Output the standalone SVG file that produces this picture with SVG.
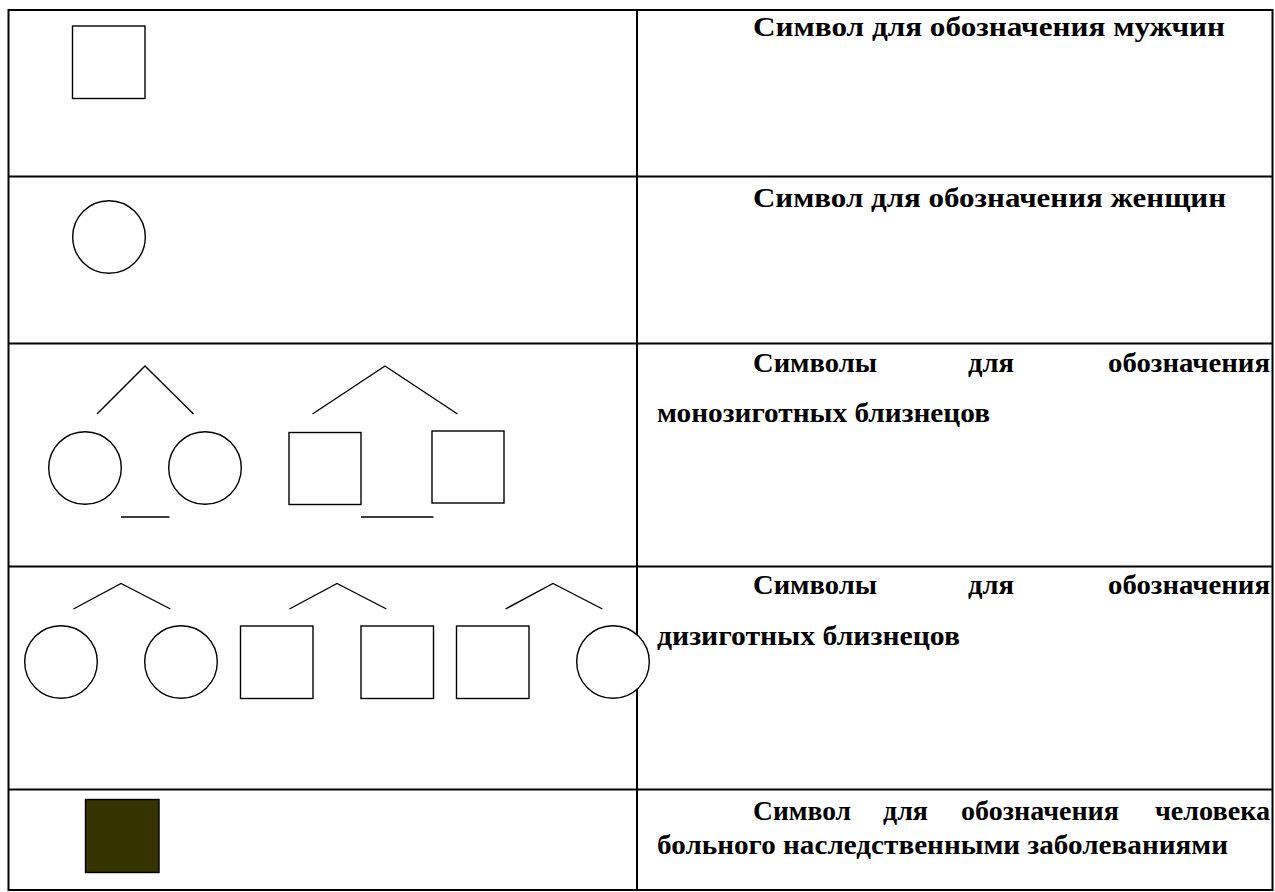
<svg xmlns="http://www.w3.org/2000/svg" width="1275" height="892" viewBox="0 0 1275 892">
<style>
.grid{stroke:#000;stroke-width:2;fill:none}
.sym{stroke:#000;stroke-width:1.4;fill:#fff}
.ln{stroke:#000;stroke-width:1.4;fill:none}
.t{font-family:"Liberation Serif","Times New Roman",serif;font-weight:bold;font-size:27px;fill:#000}
</style>
<rect width="1275" height="892" fill="#fff"/>
<g id="table">
<rect class="grid" x="8.5" y="10" width="1264" height="880"/>
<line class="grid" x1="637" y1="10" x2="637" y2="890"/>
<line class="grid" x1="8.5" y1="176.5" x2="1272.5" y2="176.5"/>
<line class="grid" x1="8.5" y1="343.5" x2="1272.5" y2="343.5"/>
<line class="grid" x1="8.5" y1="566.5" x2="1272.5" y2="566.5"/>
<line class="grid" x1="8.5" y1="789.5" x2="1272.5" y2="789.5"/>
</g>
<g id="male"><rect class="sym" x="72.5" y="26" width="72.5" height="72.5"/></g>
<g id="female"><circle class="sym" cx="109" cy="237" r="36.3"/></g>
<g id="mono-twins">
<circle class="sym" cx="85" cy="468" r="36.3"/>
<circle class="sym" cx="205" cy="468" r="36.3"/>
<rect class="sym" x="289" y="432.5" width="72" height="72"/>
<rect class="sym" x="432" y="431" width="72" height="72"/>
</g>
<g id="di-twins">
<circle class="sym" cx="61" cy="662" r="36.3"/>
<circle class="sym" cx="181" cy="662" r="36.3"/>
<rect class="sym" x="240.5" y="626" width="72.5" height="72.5"/>
<rect class="sym" x="361" y="626" width="72.5" height="72.5"/>
<rect class="sym" x="456.5" y="626" width="72.5" height="72.5"/>
<circle class="sym" cx="613" cy="662" r="36.3"/>
</g>
<g id="affected"><rect x="85.5" y="799.5" width="73.5" height="73" fill="#353300" stroke="#000" stroke-width="1.4"/></g>
<g id="connectors">
<polyline class="ln" points="97,414 145,366 193.5,414"/>
<polyline class="ln" points="312.5,414 385,366 457.5,414"/>
<line class="ln" x1="121" y1="517" x2="169.5" y2="517"/>
<line class="ln" x1="361" y1="517" x2="433.5" y2="517"/>
<polyline class="ln" points="73.5,609 121,583.5 170.5,609"/>
<polyline class="ln" points="289.5,609 337,583.5 386.5,609"/>
<polyline class="ln" points="505.5,609 553,583.5 602.5,609"/>
</g>
<g id="labels">
<text class="t" x="753" y="36" textLength="472" lengthAdjust="spacingAndGlyphs">Символ для обозначения мужчин</text>
<text class="t" x="753" y="207" textLength="473" lengthAdjust="spacingAndGlyphs">Символ для обозначения женщин</text>
<text class="t" x="753" y="372" textLength="124" lengthAdjust="spacingAndGlyphs">Символы</text>
<text class="t" x="968" y="372" textLength="46" lengthAdjust="spacingAndGlyphs">для</text>
<text class="t" x="1108" y="372" textLength="162" lengthAdjust="spacingAndGlyphs">обозначения</text>
<text class="t" x="657" y="422" textLength="333" lengthAdjust="spacingAndGlyphs">монозиготных близнецов</text>
<text class="t" x="753" y="594" textLength="124" lengthAdjust="spacingAndGlyphs">Символы</text>
<text class="t" x="968" y="594" textLength="46" lengthAdjust="spacingAndGlyphs">для</text>
<text class="t" x="1108" y="594" textLength="162" lengthAdjust="spacingAndGlyphs">обозначения</text>
<text class="t" x="657" y="645" textLength="303" lengthAdjust="spacingAndGlyphs">дизиготных близнецов</text>
<text class="t" x="753" y="820" textLength="98" lengthAdjust="spacingAndGlyphs">Символ</text>
<text class="t" x="883" y="820" textLength="45" lengthAdjust="spacingAndGlyphs">для</text>
<text class="t" x="961" y="820" textLength="158" lengthAdjust="spacingAndGlyphs">обозначения</text>
<text class="t" x="1155" y="820" textLength="115" lengthAdjust="spacingAndGlyphs">человека</text>
<text class="t" x="657" y="854" textLength="571" lengthAdjust="spacingAndGlyphs">больного наследственными заболеваниями</text>
</g>
</svg>
